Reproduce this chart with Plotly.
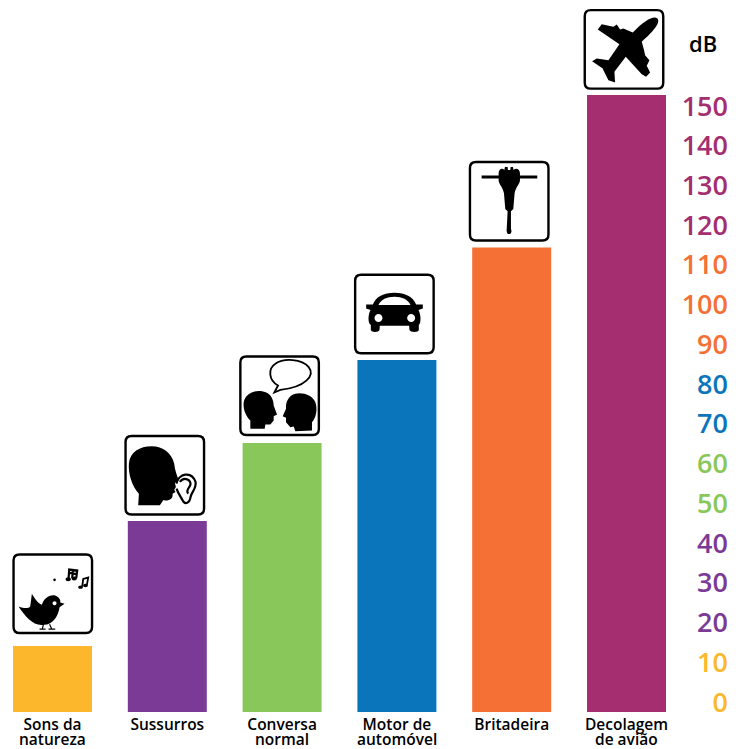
import re
import plotly.graph_objects as go

# ---- data -------------------------------------------------------------
categories = ["Sons da\nnatureza", "Sussurros", "Conversa\nnormal",
              "Motor de\nautomóvel", "Britadeira", "Decolagem\nde avião"]
decibels = [14.1, 45.6, 65.2, 86.1, 114.4, 152.8]
bar_colors = ["#FDB72D", "#7A3A96", "#89C75A", "#0B75BB", "#F47035", "#A42E70"]

tick_values = [0, 10, 20, 30, 40, 50, 60, 70, 80, 90, 100, 110, 120, 130, 140, 150]
tick_colors = ["#FDB72D", "#FDB72D", "#7A3A96", "#7A3A96", "#7A3A96", "#89C75A", "#89C75A",
               "#0B75BB", "#0B75BB", "#F47035", "#F47035", "#F47035",
               "#A42E70", "#A42E70", "#A42E70", "#A42E70"]
unit_label = "dB"

# ---- layout constants -------------------------------------------------
W, H = 739, 749
BASE = -2.5
PLOT_BOTTOM = 712
STEP = 114.8
FIRST = 52.5
FONT = "Open Sans"
LABEL_SIZE = 15.5


def circle(cx, cy, rx, ry=None):
    ry = rx if ry is None else ry
    k = 0.5523
    return (f"M{cx-rx},{cy} C{cx-rx},{cy-k*ry} {cx-k*rx},{cy-ry} {cx},{cy-ry} "
            f"C{cx+k*rx},{cy-ry} {cx+rx},{cy-k*ry} {cx+rx},{cy} "
            f"C{cx+rx},{cy+k*ry} {cx+k*rx},{cy+ry} {cx},{cy+ry} "
            f"C{cx-k*rx},{cy+ry} {cx-rx},{cy+k*ry} {cx-rx},{cy} Z")


# Icons are traced in 3x zoom coordinates; origin = top-left of the icon's frame.
BIRD = dict(origin=(40, 374), parts=[
    ("f", "M55,530 C72,536 84,536 90,530 L95,492 C103,505 112,520 125,525 C130,505 150,492 165,497 "
          "C178,502 182,512 180,518 L193,522 L178,532 C175,555 160,585 130,585 C100,590 75,560 55,530 Z"),
    ("w", circle(163, 520, 6)),
    ("s", "M130,583 L126,598 M118,598 L136,598 M148,583 L155,598 M145,598 L165,598", 1.2),
    ("f", circle(163, 450, 4)),
    ("s", "M205,447 L207,419 L231,422 L228,445 M206,429 L230,432 M218,420 L216,445", 2.2),
    ("f", circle(204, 448, 8, 6)),
    ("f", circle(222, 446, 8, 6)),
    ("s", "M246,470 L249,447 L264,443 L260,465", 1.8),
    ("f", circle(241, 472, 7, 5)),
    ("f", circle(256, 467, 7, 5)),
])
HEAD = dict(origin=(377, 17), parts=[
    ("f", "M415,225 L417,190 C395,165 385,130 387,100 C390,65 420,48 455,48 C490,48 515,68 523,100 "
          "C525,115 527,125 537,150 L525,158 L528,170 L523,178 L527,185 L518,190 C520,205 510,212 490,210 "
          "L480,225 Z"),
    ("s", "M530,160 C535,130 575,120 587,155 C590,175 575,185 572,200 C570,218 555,225 548,210 "
          "C543,200 535,190 530,175", 2.2),
    ("s", "M540,155 C550,140 570,145 572,160 C572,172 555,178 565,190", 2.2),
])
TALK = dict(origin=(30, 258), parts=[
    ("s", "M143,345 C115,330 112,295 135,280 C160,262 215,265 235,290 C255,315 225,350 150,358 L132,366 Z", 1.8),
    ("f", "M60,475 L60,450 C45,435 38,415 40,395 C45,370 70,358 95,362 C120,365 130,385 130,405 "
          "L140,432 L130,437 L130,450 L120,462 L105,462 L103,475 Z"),
    ("f", "M245,480 L245,455 C258,440 262,415 255,395 C245,372 215,365 195,370 C175,375 165,395 167,415 "
          "L157,437 L167,442 L167,455 L180,470 L190,468 L195,482 Z"),
])
CAR = dict(origin=(375, 14), parts=[
    ("f", "M408,103 L428,103 C438,80 460,68 493,68 C526,68 548,80 558,103 L578,103 L578,115 L565,120 "
          "C573,135 573,160 566,165 L566,180 C566,188 540,188 538,180 L537,167 L449,167 L448,180 "
          "C446,188 424,188 422,180 L422,165 C413,160 413,135 421,120 L408,115 Z"),
    ("w", "M445,105 C452,88 470,80 493,80 C516,80 534,88 541,105 Z"),
    ("w", circle(445, 144, 12)),
    ("w", circle(543, 144, 12)),
])
DRILL = dict(origin=(28, 484), parts=[
    ("s", "M63,529 L230,529", 3.2),
    ("f", "M114,518 C114,505 125,500 131,508 L133,499 L141,499 L142,508 L149,508 L150,499 L157,499 L159,508 "
          "C166,500 178,505 178,518 L178,540 C176,552 165,560 162,578 L158,625 L151,632 L151,685 "
          "C158,700 139,708 138,690 L141,632 L134,625 L130,578 C127,560 116,552 114,540 Z"),
])
PLANE = dict(origin=(374, 30), parts=[
    ("f", "M592,55 C580,46 555,60 518,97 L490,85 L480,88 L470,73 L460,80 L425,72 L413,88 L478,132 L445,180 "
          "L410,175 L396,183 L428,205 L430,210 L445,240 L465,247 L463,215 L497,170 L545,222 L558,230 L570,217 "
          "L560,197 L568,180 L555,165 L552,150 L545,125 C575,97 603,70 592,55 Z"),
])
icons = [BIRD, HEAD, TALK, CAR, DRILL, PLANE]
icon_shift_x = [0.3, -2.5, -2.5, -2.5, -2.5, -2.5]
icon_gap = [13.0, 6.4, 8.0, 6.7, 7.0, 6.3]

FRAME = 78.5


def to_pixels(path, origin, dx, gap):
    """Crop coordinates -> pixel offsets from the top-centre of a bar (y up)."""
    nums = iter(range(10**6))
    def repl(m):
        v = float(m.group(0)) / 3.0
        if next(nums) % 2 == 0:
            return f"{v - origin[0] / 3.0 - FRAME / 2 + dx:.2f}"
        return f"{gap + FRAME - (v - origin[1] / 3.0):.2f}"
    return re.sub(r"-?\d+\.?\d*", repl, path)


def frame_path(dx, gap):
    s, r = FRAME, 6
    x0, x1 = -s / 2 + dx, s / 2 + dx
    y0, y1 = gap, gap + s
    return (f"M{x0 + r},{y1} L{x1 - r},{y1} Q{x1},{y1} {x1},{y1 - r} L{x1},{y0 + r} Q{x1},{y0} {x1 - r},{y0} "
            f"L{x0 + r},{y0} Q{x0},{y0} {x0},{y0 + r} L{x0},{y1 - r} Q{x0},{y1} {x0 + r},{y1} Z")


shapes = []
for cat, val, icon, dx, gap in zip(categories, decibels, icons, icon_shift_x, icon_gap):
    common = dict(type="path", xref="x", yref="y", xsizemode="pixel", ysizemode="pixel",
                  xanchor=cat, yanchor=val, layer="above")
    shapes.append(dict(path=frame_path(dx, gap), fillcolor="white",
                       line=dict(color="black", width=2.4), **common))
    for part in icon["parts"]:
        path = to_pixels(part[1], icon["origin"], dx, gap)
        if part[0] == "f":
            shapes.append(dict(path=path, fillcolor="black", line=dict(width=0), **common))
        elif part[0] == "w":
            shapes.append(dict(path=path, fillcolor="white", line=dict(width=0), **common))
        else:
            shapes.append(dict(path=path, fillcolor="rgba(0,0,0,0)",
                               line=dict(color="black", width=part[2]), **common))

fig = go.Figure(go.Bar(
    x=categories,
    y=[v - BASE for v in decibels],
    base=BASE,
    marker=dict(color=bar_colors, line=dict(width=0)),
    hoverinfo="skip",
))

annotations = []
for c in categories:
    if "\n" in c:
        annotations.append(dict(x=c, xref="x", y=(PLOT_BOTTOM - 738.5) / PLOT_BOTTOM, yref="paper",
                                text=c.split("\n")[1], showarrow=False, yanchor="middle", xanchor="center",
                                font=dict(family=FONT, size=LABEL_SIZE, color="black", weight=600)))
annotations.append(dict(x=703 / W, xref="paper", y=(PLOT_BOTTOM - 43) / PLOT_BOTTOM, yref="paper",
                        text=unit_label, showarrow=False, xanchor="center", yanchor="middle",
                        font=dict(family=FONT, size=22, color="black", weight=600)))

fig.update_layout(
    width=W, height=H, autosize=False,
    margin=dict(l=0, r=0, t=0, b=H - PLOT_BOTTOM, pad=0),
    paper_bgcolor="white", plot_bgcolor="white",
    bargap=0.312, showlegend=False,
    shapes=shapes, annotations=annotations,
    xaxis=dict(
        type="category",
        range=[-FIRST / STEP, (W - FIRST) / STEP],
        tickmode="array", tickvals=categories,
        ticktext=[c.split("\n")[0] for c in categories],
        ticks="", showgrid=False, zeroline=False, showline=False,
        tickfont=dict(family=FONT, size=LABEL_SIZE, color="black", weight=600),
        ticklabelstandoff=1,
    ),
    yaxis=dict(
        side="left", anchor="free", position=728 / W,
        range=[BASE, 702 / 3.973],
        tickmode="array", tickvals=tick_values,
        ticktext=[f'<span style="color:{c}">{v}</span>' for v, c in zip(tick_values, tick_colors)],
        ticks="", showgrid=False, zeroline=False, showline=False,
        tickfont=dict(family=FONT, size=27, weight=600),
    ),
)

fig.write_html("out.html", config=dict(displayModeBar=False),
               post_script="document.body.style.margin='0';document.body.style.overflow='hidden';")
